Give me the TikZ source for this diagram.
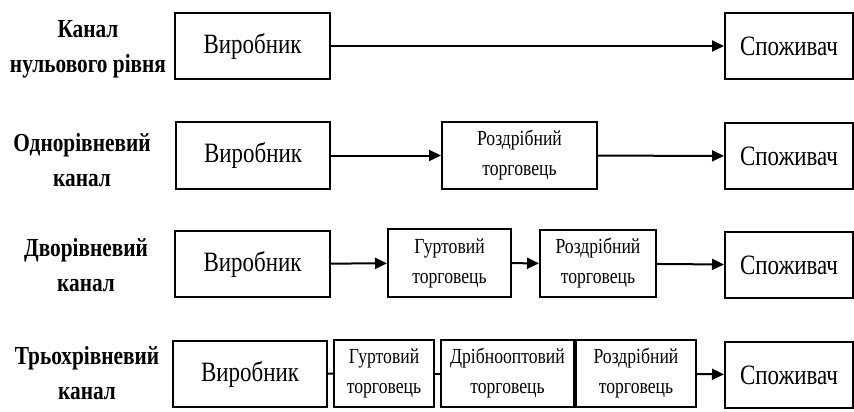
\documentclass[tikz,border=0pt]{standalone}
\usepackage{fontspec}
\setmainfont[FakeStretch=0.82]{Liberation Serif}
\usetikzlibrary{arrows.meta}
\tikzset{
  box/.style={draw=black, line width=2pt, fill=white, inner sep=0pt, align=center},
  bigtxt/.style={font=\fontsize{28}{30}\selectfont},
  smalltxt/.style={font=\fontsize{21.5}{30}\selectfont},
  lbl/.style={font=\fontsize{26}{35}\selectfont\bfseries, align=center, inner sep=0pt},
  arr/.style={line width=2pt, -{Triangle[length=12pt,width=11pt]}},
  lnk/.style={line width=2pt}
}
\begin{document}
\begin{tikzpicture}[x=1pt,y=-1pt]
\useasboundingbox (0,0) rectangle (854,412);
% labels
\node[lbl] (l1) at (88,49) {Канал\\нульового рівня};
\node[lbl] (l2) at (82,160) {Однорівневий\\канал};
\node[lbl] (l3) at (86,265) {Дворівневий\\канал};
\node[lbl] (l4) at (87,373) {Трьохрівневий\\канал};
% row 1
\node[box,bigtxt,minimum width=155pt,minimum height=66pt] (v1) at (252.5,46) {Виробник};
\node[box,bigtxt,minimum width=128pt,minimum height=66pt] (s1) at (789,46) {Споживач};
\draw[arr] (v1) -- (s1);
% row 2
\node[box,bigtxt,minimum width=154pt,minimum height=67pt] (v2) at (253,155.5) {Виробник};
\node[box,smalltxt,minimum width=155pt,minimum height=67pt] (r2) at (519.5,155.5) {Роздрібний\\торговець};
\node[box,bigtxt,minimum width=128pt,minimum height=66pt] (s2) at (789,156) {Споживач};
\draw[arr] (v2) -- (r2);
\draw[arr] (r2) -- (s2);
% row 3
\node[box,bigtxt,minimum width=155pt,minimum height=66pt] (v3) at (252.5,264) {Виробник};
\node[box,smalltxt,minimum width=123pt,minimum height=68pt] (g3) at (449.5,263) {Гуртовий\\торговець};
\node[box,smalltxt,minimum width=116pt,minimum height=67pt] (r3) at (598,263.5) {Роздрібний\\торговець};
\node[box,bigtxt,minimum width=128pt,minimum height=66pt] (s3) at (789,265) {Споживач};
\draw[arr] (v3) -- (g3);
\draw[arr] (g3) -- (r3);
\draw[arr] (r3) -- (s3);
% row 4
\node[box,bigtxt,minimum width=154pt,minimum height=66pt] (v4) at (250,374) {Виробник};
\node[box,smalltxt,minimum width=100pt,minimum height=67pt] (g4) at (384,373.5) {Гуртовий\\торговець};
\node[box,smalltxt,minimum width=133pt,minimum height=67pt] (d4) at (507.5,373.5) {Дрібнооптовий\\торговець};
\node[box,smalltxt,minimum width=120pt,minimum height=67pt] (r4) at (636,373.5) {Роздрібний\\торговець};
\node[box,bigtxt,minimum width=128pt,minimum height=66pt] (s4) at (789,375) {Споживач};
\draw[lnk] (v4) -- (g4);
\draw[lnk] (g4) -- (d4);
\draw[arr] (r4) -- (s4);
\end{tikzpicture}
\end{document}
